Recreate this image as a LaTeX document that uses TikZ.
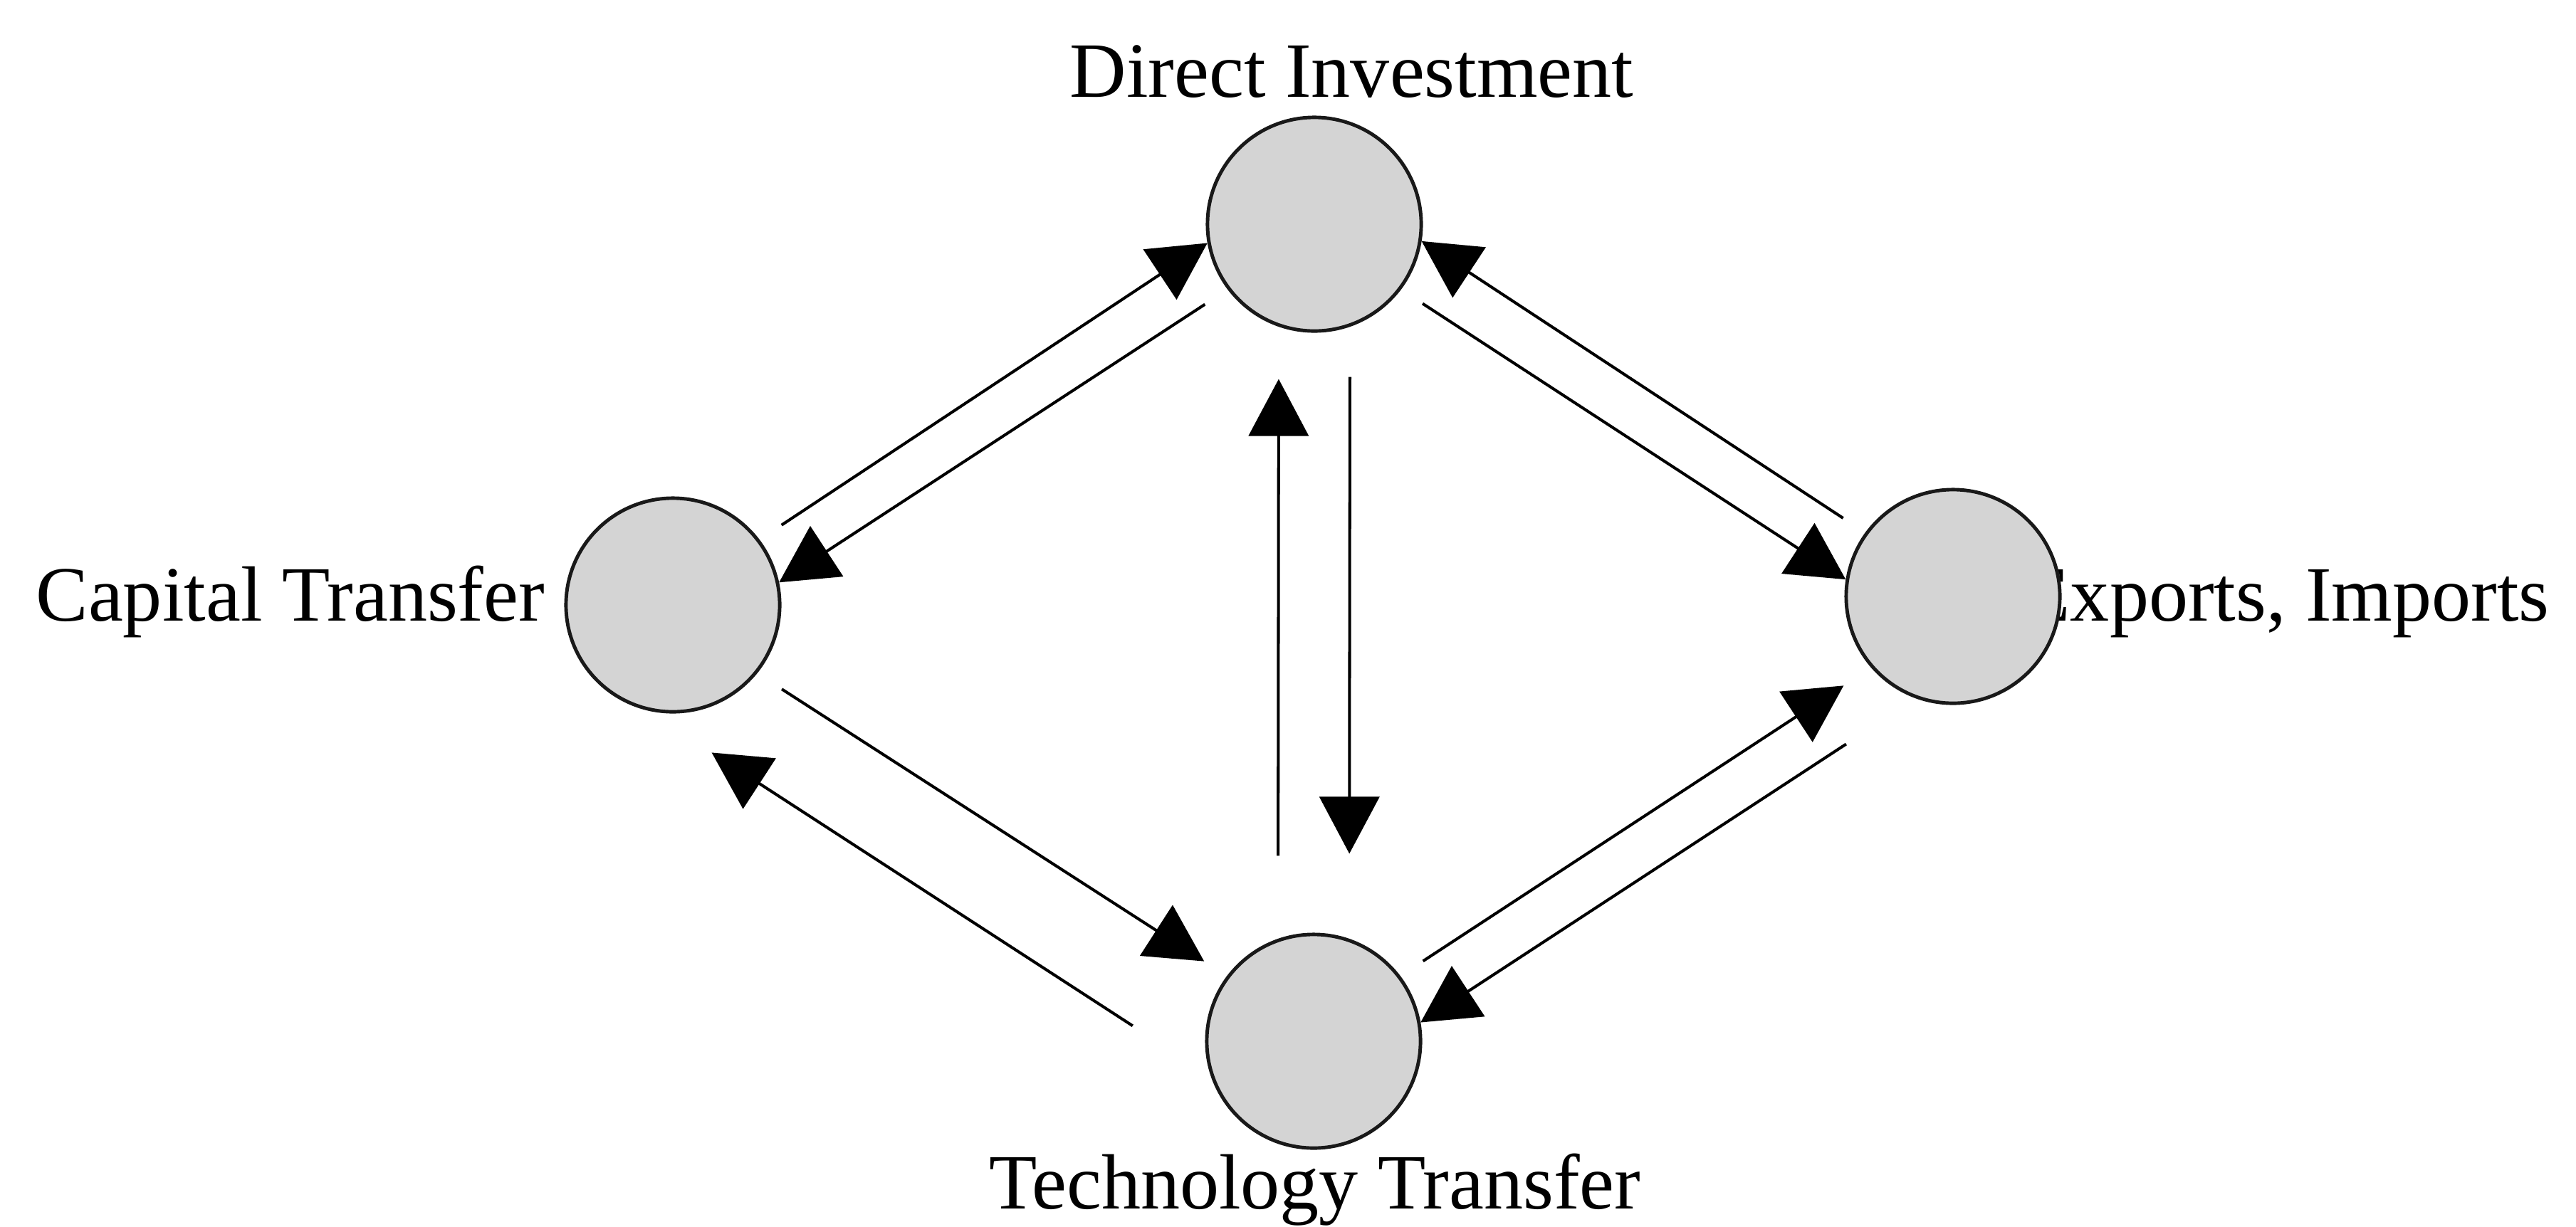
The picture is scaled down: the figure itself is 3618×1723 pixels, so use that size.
\documentclass[tikz,border=0pt]{standalone}
\usepackage{fontspec}
\setmainfont{Liberation Serif}
\usetikzlibrary{arrows.meta}
\definecolor{discfill}{RGB}{212,212,212}
\begin{document}
\begin{tikzpicture}[x=0.01cm, y=-0.01cm,
  disc/.style={circle, draw=black!90, line width=1.4pt, fill=discfill, minimum size=3cm, inner sep=0pt},
  lbl/.style={inner sep=0pt, font=\fontsize{31.3pt}{37pt}\selectfont},
  flow/.style={draw=black, line width=1.15pt, -{Triangle[length=0.8cm,width=0.84cm]}}]
\useasboundingbox (0,0) rectangle (3618,1723);

% labels (drawn first, so the discs lie over them)
\node[lbl, anchor=base west] (lDI) at (1502,136) {Direct Investment};
\node[lbl, anchor=base west] (lCT) at (50,872) {Capital Transfer};
\node[lbl, anchor=base west] (lEI) at (2840,872) {Exports, Imports};
\node[lbl, anchor=base] (lTT) at (1847,1698) {Technology Transfer};

% the four discs
\node[disc] (di) at (1846,315) {};
\node[disc] (ct) at (945,850) {};
\node[disc] (ei) at (2743,838) {};
\node[disc] (tt) at (1845,1463) {};

% Capital Transfer <-> Direct Investment
\draw[flow, shorten <=0.37cm] (ct.37) -- (di.190);
\draw[flow, shorten <=0.38cm] (di.217) -- (ct.12);

% Direct Investment <-> Exports, Imports
\draw[flow, shorten <=0.36cm] (di.323.5) -- (ei.171);
\draw[flow, shorten <=0.37cm] (ei.144) -- (di.351);

% Direct Investment <-> Technology Transfer
\draw[flow, shorten <=1.08cm, shorten >=0.65cm] ([xshift=-0.5cm]tt.north) -- ([xshift=-0.5cm]di.south);
\draw[flow, shorten <=0.62cm, shorten >=1.11cm] ([xshift=0.5cm]di.south) -- ([xshift=0.5cm]tt.north);

% Capital Transfer <-> Technology Transfer
\draw[flow, shorten <=0.41cm, shorten >=0.38cm] (ct.321) -- (tt.143);
\draw[flow, shorten <=1.31cm, shorten >=1.09cm] (tt.199) -- (ct.256);

% Technology Transfer <-> Exports, Imports
\draw[flow, shorten <=0.38cm, shorten >=0.46cm] (tt.37.5) -- (ei.221);
\draw[flow, shorten <=1.17cm] (ei.250) -- (tt.10);
\end{tikzpicture}
\end{document}
